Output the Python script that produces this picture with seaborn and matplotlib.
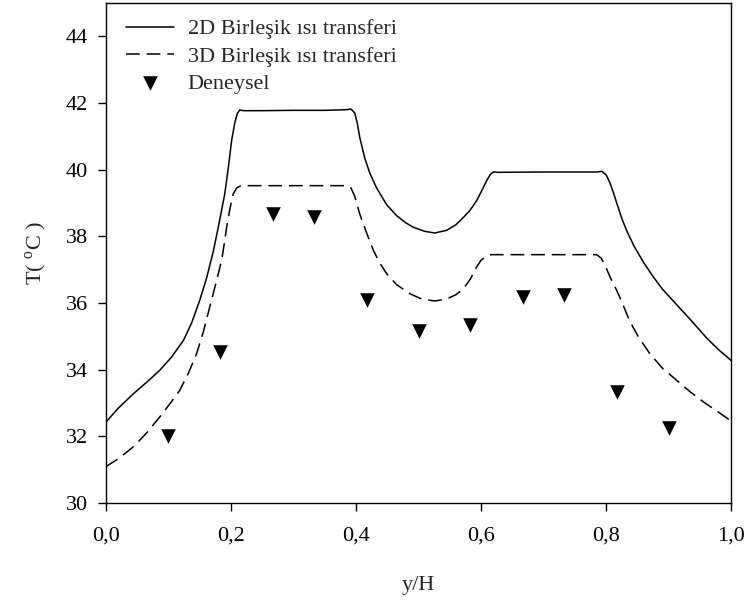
import numpy as np
import pandas as pd
import matplotlib
matplotlib.use('Agg')
import matplotlib.pyplot as plt
from matplotlib.ticker import FuncFormatter
import seaborn as sns

# 2D birlesik isi transferi (solid line)
x_2d = [0.0, 0.02, 0.044, 0.065, 0.086, 0.105, 0.124, 0.137, 0.150, 0.161, 0.172, 0.181,
        0.190, 0.196, 0.201, 0.206, 0.210, 0.214, 0.220, 0.25, 0.30, 0.35, 0.385, 0.392,
        0.398, 0.402, 0.406, 0.414, 0.422, 0.433, 0.449, 0.465, 0.480, 0.492, 0.510, 0.526,
        0.545, 0.560, 0.572, 0.582, 0.593, 0.602, 0.609, 0.615, 0.620, 0.627, 0.70, 0.785,
        0.793, 0.800, 0.806, 0.812, 0.818, 0.825, 0.833, 0.845, 0.860, 0.875, 0.890, 0.913,
        0.935, 0.961, 0.980, 1.0]
t_2d = [32.43, 32.85, 33.28, 33.62, 33.98, 34.38, 34.88, 35.40, 36.08, 36.75, 37.57, 38.40,
        39.27, 40.10, 40.87, 41.40, 41.68, 41.79, 41.77, 41.77, 41.78, 41.78, 41.80, 41.82,
        41.70, 41.40, 40.97, 40.35, 39.90, 39.45, 38.95, 38.62, 38.40, 38.27, 38.15, 38.10,
        38.18, 38.35, 38.57, 38.77, 39.07, 39.40, 39.67, 39.86, 39.93, 39.92, 39.93, 39.93,
        39.95, 39.85, 39.62, 39.30, 38.95, 38.55, 38.17, 37.70, 37.22, 36.80, 36.42, 35.95,
        35.50, 34.95, 34.60, 34.28]

# 3D birlesik isi transferi (dashed line)
x_3d = [0.0, 0.02, 0.044, 0.065, 0.086, 0.102, 0.118, 0.132, 0.145, 0.156, 0.166, 0.176,
        0.185, 0.189, 0.193, 0.198, 0.2035, 0.209, 0.216, 0.25, 0.30, 0.35, 0.385, 0.392,
        0.398, 0.406, 0.417, 0.428, 0.438, 0.449, 0.465, 0.486, 0.505, 0.526, 0.545, 0.560,
        0.572, 0.583, 0.593, 0.600, 0.608, 0.616, 0.70, 0.785, 0.792, 0.798, 0.806, 0.817,
        0.826, 0.838, 0.852, 0.870, 0.890, 0.913, 0.935, 0.956, 0.978, 1.0]
t_3d = [31.09, 31.33, 31.69, 32.10, 32.58, 32.97, 33.38, 33.90, 34.48, 35.15, 35.88, 36.60,
        37.28, 37.75, 38.27, 38.80, 39.27, 39.45, 39.52, 39.52, 39.52, 39.52, 39.52, 39.45,
        39.20, 38.67, 38.10, 37.57, 37.20, 36.88, 36.55, 36.28, 36.12, 36.06, 36.12, 36.25,
        36.43, 36.72, 37.08, 37.28, 37.40, 37.45, 37.45, 37.45, 37.35, 37.15, 36.80, 36.38,
        36.00, 35.45, 34.98, 34.48, 34.05, 33.68, 33.33, 33.03, 32.75, 32.46]

# Deneysel olcumler
x_exp = [0.1, 0.183, 0.267, 0.333, 0.417, 0.5, 0.583, 0.667, 0.733, 0.817, 0.9]
t_exp = [32.0, 34.53, 38.67, 38.57, 36.1, 35.16, 35.33, 36.19, 36.23, 33.33, 32.24]

sns.set_theme(style='ticks')
plt.rcParams['font.family'] = ['Liberation Serif', 'DejaVu Serif']
plt.rcParams['mathtext.fontset'] = 'custom'
plt.rcParams['mathtext.rm'] = 'Liberation Serif'
plt.rcParams['axes.edgecolor'] = 'black'
plt.rcParams['xtick.color'] = 'black'
plt.rcParams['ytick.color'] = 'black'

fig = plt.figure(figsize=(7.49, 6.02), dpi=100)
ax = fig.add_axes([0.1415, 0.1645, 0.8345, 0.8305])

sns.lineplot(x=x_2d, y=t_2d, ax=ax, color='black', lw=1.1, label='2D Birleşik ısı transferi',
             estimator=None, sort=False)
sns.lineplot(x=x_3d, y=t_3d, ax=ax, color='black', lw=1.1, label='3D Birleşik ısı transferi',
             estimator=None, sort=False)
ax.lines[1].set_dashes([9, 4.5])
sns.scatterplot(x=x_exp, y=t_exp, ax=ax, marker='v', s=110, color='black', linewidth=0,
                label='Deneysel')

ax.set_xlim(0, 1.0)
ax.set_ylim(30, 45)
ax.set_xticks(np.arange(0, 1.01, 0.2))
ax.set_yticks(np.arange(30, 45, 2))
ax.xaxis.set_major_formatter(FuncFormatter(lambda v, p: f'{v:.1f}'.replace('.', ',')))
ax.tick_params(axis='both', direction='out', length=6, width=1.0, labelsize=16)
ax.tick_params(axis='x', pad=11)
ax.tick_params(axis='y', pad=7)
for s in ax.spines.values():
    s.set_linewidth(1.0)
    s.set_color('black')

ax.set_xlabel('y/H', fontsize=16, labelpad=22)
ax.set_ylabel(r'T( $^{\rm o}$C )', fontsize=16, labelpad=12)

leg = ax.legend(loc='upper left', bbox_to_anchor=(0.01, 0.995), frameon=False, fontsize=16,
                handlelength=2.2, handletextpad=0.6, labelspacing=0.3, borderaxespad=0.2,
                scatterpoints=1)

fig.savefig('out.png', dpi=100)
